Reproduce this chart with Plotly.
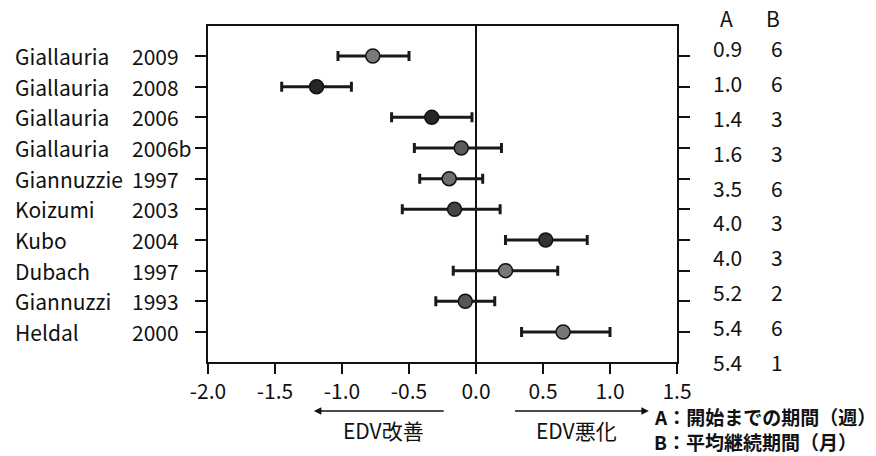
import plotly.graph_objects as go

# ---- data ----
names = ["Giallauria", "Giallauria", "Giallauria", "Giallauria", "Giannuzzie",
         "Koizumi", "Kubo", "Dubach", "Giannuzzi", "Heldal"]
years = ["2009", "2008", "2006", "2006b", "1997", "2003", "2004", "1997", "1993", "2000"]
effect = [-0.77, -1.19, -0.33, -0.11, -0.20, -0.16, 0.52, 0.22, -0.08, 0.65]
ci_low = [-1.03, -1.45, -0.63, -0.46, -0.42, -0.55, 0.22, -0.17, -0.30, 0.34]
ci_high = [-0.50, -0.93, -0.03, 0.19, 0.05, 0.18, 0.83, 0.61, 0.14, 1.00]
col_a = ["0.9", "1.0", "1.4", "1.6", "3.5", "4.0", "4.0", "5.2", "5.4", "5.4"]
col_b = ["6", "6", "3", "3", "6", "3", "3", "2", "6", "1"]
x_ticks = [-2.0, -1.5, -1.0, -0.5, 0.0, 0.5, 1.0, 1.5]
marker_fill = ["#7a7a7a", "#262626", "#262626", "#5a5a5a", "#6e6e6e",
               "#444444", "#333333", "#777777", "#555555", "#777777"]

rows = [f"{n} {y}" for n, y in zip(names, years)]
err_plus = [h - e for h, e in zip(ci_high, effect)]
err_minus = [e - l for e, l in zip(effect, ci_low)]

FONT = "Noto Sans CJK JP"
FS = 21
W, H = 876, 456
L, R, T, B = 208, 199, 26, 94
pw, ph = W - L - R, H - T - B


def px_x(px):
    return (px - L) / pw


def px_y(py):
    return (H - B - py) / ph


fig = go.Figure()
fig.add_trace(go.Scatter(
    x=effect, y=rows, mode="markers",
    marker=dict(size=14, color=marker_fill, line=dict(color="#111", width=1.5)),
    error_x=dict(type="data", symmetric=False, array=err_plus, arrayminus=err_minus,
                 thickness=3, width=5, color="#1a1a1a"),
    showlegend=False, hoverinfo="x+y",
))

ann = []
for i, (n, y, r) in enumerate(zip(names, years, rows)):
    ann.append(dict(text=n, x=px_x(13), xref="paper", y=r, yref="y",
                    xanchor="left", yanchor="middle", showarrow=False))
    shift = -9 if len(n) > 10 else 0
    ann.append(dict(text=y, x=px_x(130), xref="paper", y=r, yref="y", xshift=shift,
                    xanchor="left", yanchor="middle", showarrow=False))

# A / B columns
ann.append(dict(text="A", x=px_x(726), xref="paper", y=px_y(18), yref="paper",
                xanchor="center", yanchor="middle", showarrow=False))
ann.append(dict(text="B", x=px_x(773), xref="paper", y=px_y(18), yref="paper",
                xanchor="center", yanchor="middle", showarrow=False))
n_rows = len(col_a)
for i, (a, b) in enumerate(zip(col_a, col_b)):
    py = 48 + i * (362 - 48) / (n_rows - 1)
    ann.append(dict(text=a, x=px_x(727), xref="paper", y=px_y(py), yref="paper",
                    xanchor="center", yanchor="middle", showarrow=False))
    ann.append(dict(text=b, x=px_x(777), xref="paper", y=px_y(py), yref="paper",
                    xanchor="center", yanchor="middle", showarrow=False))

# arrows and direction labels
ann.append(dict(text="", x=-1.21, y=px_y(411), xref="x", yref="paper",
                ax=-0.23, ay=0, axref="x", ayref="pixel",
                showarrow=True, arrowhead=2, arrowsize=1, arrowwidth=1.5, arrowcolor="#111"))
ann.append(dict(text="", x=1.29, y=px_y(411), xref="x", yref="paper",
                ax=0.28, ay=0, axref="x", ayref="pixel",
                showarrow=True, arrowhead=2, arrowsize=1, arrowwidth=1.5, arrowcolor="#111"))
ann.append(dict(text="EDV改善", x=-0.69, y=px_y(430), xref="x", yref="paper",
                xanchor="center", yanchor="middle", showarrow=False))
ann.append(dict(text="EDV悪化", x=0.75, y=px_y(430), xref="x", yref="paper",
                xanchor="center", yanchor="middle", showarrow=False))
ann.append(dict(text="A：開始までの期間（週）", x=px_x(652), xref="paper", y=px_y(416),
                yref="paper", xanchor="left", yanchor="middle", showarrow=False,
                font=dict(size=19, weight="bold")))
ann.append(dict(text="B：平均継続期間（月）", x=px_x(652), xref="paper", y=px_y(441),
                yref="paper", xanchor="left", yanchor="middle", showarrow=False,
                font=dict(size=19, weight="bold")))

fig.update_layout(
    width=W, height=H,
    margin=dict(l=L, r=R, t=T, b=B, pad=0),
    plot_bgcolor="white", paper_bgcolor="white",
    font=dict(family=FONT, size=FS, color="#111"),
    annotations=ann,
    xaxis=dict(range=[-2.0, 1.5], tickvals=x_ticks,
               ticktext=[f"{v:.1f}" for v in x_ticks],
               ticks="outside", ticklen=10, tickwidth=1.5, tickcolor="#111",
               showline=True, linewidth=1.5, linecolor="#111", mirror=True,
               showgrid=False, zeroline=True, zerolinecolor="#111", zerolinewidth=1.5,
               tickfont=dict(family=FONT, size=FS, color="#111")),
    yaxis=dict(type="category", categoryorder="array", categoryarray=rows,
               range=[9.98, -0.98], showticklabels=False,
               ticks="outside", ticklen=11, tickwidth=1.5, tickcolor="#111",
               showline=True, linewidth=1.5, linecolor="#111", mirror="allticks",
               showgrid=False, zeroline=False),
)

fig.write_html("out.html", config={"displayModeBar": False},
               post_script="document.body.style.margin='0px';")
